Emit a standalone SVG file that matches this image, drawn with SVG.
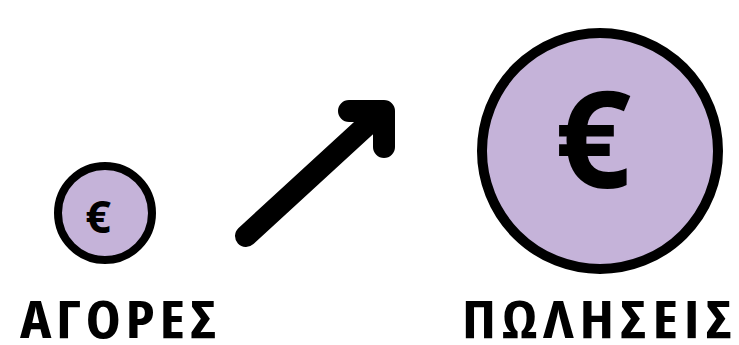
<svg xmlns="http://www.w3.org/2000/svg" width="739" height="345" viewBox="0 0 739 345">
<style>
.coin{fill:#c5b3d9;stroke:#000}
.euro{font-family:"Open Sans","Noto Sans",sans-serif;font-weight:bold;fill:#000;text-anchor:middle}
.label{font-family:"Open Sans","Noto Sans",sans-serif;font-stretch:75%;font-weight:bold;font-size:52px;fill:#000}
.arrow{fill:none;stroke:#000;stroke-width:22;stroke-linecap:round;stroke-linejoin:round}
</style>
<rect width="739" height="345" fill="#fff"/>
<g id="agores">
<circle class="coin" cx="105" cy="213" r="47" stroke-width="8"/>
<text class="euro" x="98" y="233" font-size="45">€</text>
<text class="label" transform="translate(20,338) scale(1.15,1)" x="0" y="0" textLength="171" lengthAdjust="spacing">ΑΓΟΡΕΣ</text>
</g>
<g id="poliseis">
<circle class="coin" cx="600" cy="151" r="118" stroke-width="10"/>
<text class="euro" x="593" y="188" font-size="134">€</text>
<text class="label" transform="translate(462,338) scale(1.15,1)" x="0" y="0" textLength="235" lengthAdjust="spacing">ΠΩΛΗΣΕΙΣ</text>
</g>
<g id="connectors">
<path class="arrow" d="M246 236 L380 113"/>
<path class="arrow" d="M349 111 L384 111 L384 147"/>
</g>
</svg>
